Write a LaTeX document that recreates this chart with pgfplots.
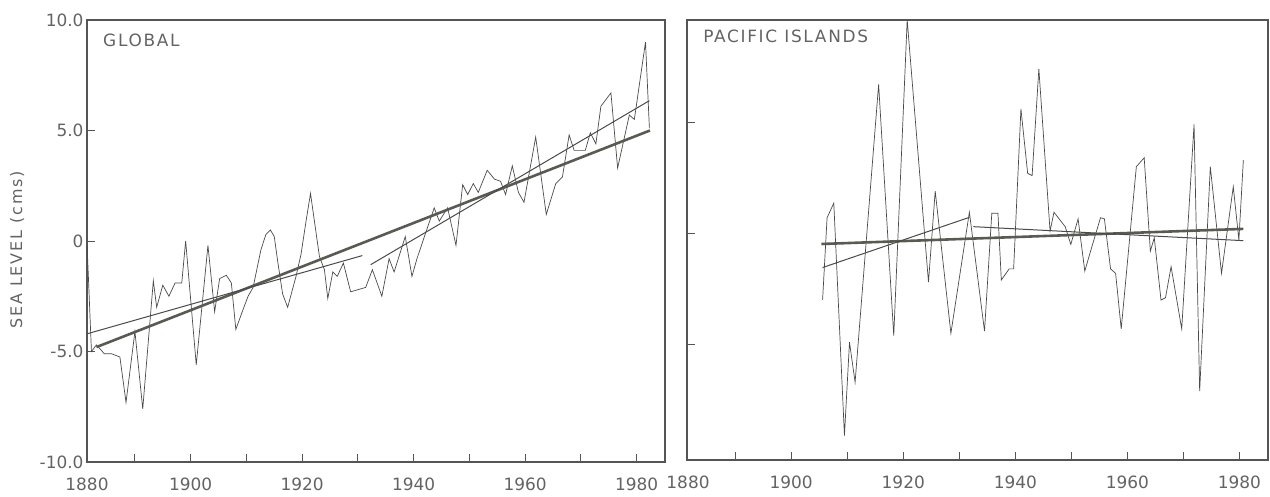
\documentclass[border=0pt]{standalone}
\usepackage{fontspec}
\setmainfont{DejaVu Sans}
\usepackage{pgfplots}
\pgfplotsset{compat=1.18}
\definecolor{txt}{HTML}{636363}
\definecolor{frm}{HTML}{555555}
\definecolor{dat}{HTML}{4A4A4A}
\definecolor{trd}{HTML}{5A5A52}
\tikzset{
  ttl/.style={anchor=west, text=txt, font=\fontsize{17}{20}\selectfont\addfontfeature{LetterSpace=10}},
  lbl/.style={anchor=north, yshift=-12bp, text=txt, font=\fontsize{17}{20}\selectfont},
}
\pgfplotsset{
  sea/.style={
    scale only axis, clip=false,
    xmin=1881.4, xmax=1985.1,
    axis line style={frm, line width=1.1bp},
    tick style={frm, line width=0.9bp},
    major tick length=8bp,
    tick align=inside,
    xtick pos=bottom, ytick pos=left,
    xtick={1890,1900,1910,1920,1930,1940,1950,1960,1970,1980},
    xticklabels={,1900,,1920,,1940,,1960,,1980},
    ticklabel style={font=\fontsize{17}{20}\selectfont, text=txt},
    xticklabel style={yshift=-12bp},
  },
  dataline/.style={draw=dat, line width=0.7bp, no marks},
  thicktrend/.style={draw=trd, line width=2.6bp, no marks},
  thintrend/.style={draw=dat, line width=1.0bp, no marks},
}
\begin{document}
\begin{tikzpicture}
\useasboundingbox (0,0) rectangle (1270bp,497bp);
% ---------------- GLOBAL ----------------
\begin{axis}[sea, at={(87bp,35bp)}, anchor=south west, width=578bp, height=442bp,
  ymin=-10, ymax=10,
  ytick={-10,-5,0,5,10},
  yticklabels={-10.0,-5.0,0,5.0,10.0},
  ylabel={SEA LEVEL (cms)},
  ylabel style={at={(rel axis cs:-0.121,0.48)}, anchor=center, text=txt,
    font=\fontsize{16}{18}\selectfont\addfontfeature{LetterSpace=12}},
]
\addplot[dataline] coordinates {
(1881.4,-0.1) (1882.2,-5.0) (1883.1,-4.7) (1884.5,-5.1) (1885.8,-5.1) (1887.3,-5.25)
(1888.4,-7.3) (1890.0,-4.1) (1891.4,-7.6) (1893.3,-1.8) (1893.9,-3.0) (1895.0,-2.0)
(1896.1,-2.5) (1897.2,-1.9) (1898.4,-1.9) (1899.1,0.0) (1901.0,-5.6) (1903.1,-0.2)
(1904.3,-3.2) (1905.2,-1.7) (1906.4,-1.55) (1907.3,-1.9) (1908.1,-4.0) (1909.4,-3.1)
(1910.3,-2.5) (1911.2,-2.1) (1912.6,-0.4) (1913.5,0.3) (1914.3,0.5) (1915.0,0.2)
(1915.6,-0.9) (1916.5,-2.4) (1917.4,-3.0) (1918.9,-1.6) (1919.8,-0.6) (1920.7,0.9)
(1921.5,2.15) (1923.1,-0.7) (1924.0,-1.3) (1924.6,-2.6) (1925.5,-1.4) (1926.3,-1.6)
(1927.4,-1.0) (1928.7,-2.3) (1931.4,-2.1) (1932.6,-1.3) (1934.3,-2.5) (1935.6,-0.8)
(1936.5,-1.4) (1938.5,0.2) (1939.7,-1.6) (1940.6,-0.8) (1942.2,0.4) (1943.7,1.5)
(1944.6,0.9) (1946.1,1.5) (1947.6,-0.2) (1948.8,2.55) (1949.7,2.1) (1950.7,2.6)
(1951.6,2.2) (1953.2,3.2) (1954.5,2.8) (1955.6,2.7) (1956.5,2.1) (1957.7,3.4)
(1958.8,2.2) (1959.8,1.75) (1961.9,4.7) (1963.8,1.2) (1965.5,2.6) (1966.7,2.9)
(1967.9,4.8) (1968.8,4.1) (1970.8,4.1) (1971.7,4.9) (1972.7,4.4) (1973.6,6.1)
(1975.4,6.7) (1976.6,3.3) (1978.7,5.7) (1979.6,5.5) (1981.6,9.0) (1982.3,5.1)
};
\addplot[thicktrend] coordinates {(1883.1,-4.8) (1982.4,5.0)};
\addplot[thintrend] coordinates {(1881.4,-4.2) (1930.8,-0.66)};
\addplot[thintrend] coordinates {(1932.3,-1.07) (1982.3,6.35)};
\node[ttl] at (rel axis cs:0.022,0.955) {GLOBAL};
\node[lbl] at (rel axis cs:0,0) {1880};
\end{axis}
% ---------------- PACIFIC ISLANDS ----------------
\begin{axis}[sea, at={(687bp,37bp)}, anchor=south west, width=581bp, height=440bp,
  ymin=-10.2, ymax=9.6,
  ytick={-5,0,5},
  yticklabels={},
]
\addplot[dataline] coordinates {
(1905.6,-3.0) (1906.4,0.7) (1907.6,1.36) (1909.5,-9.1) (1910.4,-4.9) (1911.4,-6.7)
(1915.6,6.7) (1918.3,-4.6) (1920.7,9.6) (1924.5,-2.2) (1925.7,1.9) (1928.5,-4.5)
(1931.8,0.95) (1934.5,-4.4) (1935.8,0.9) (1936.9,0.9) (1937.5,-2.1) (1938.9,-1.6)
(1939.7,-1.6) (1941.0,5.6) (1942.2,2.7) (1943.0,2.6) (1944.2,7.4) (1946.2,0.1)
(1946.9,0.95) (1948.9,0.3) (1949.9,-0.5) (1951.2,0.65) (1952.4,-1.7) (1953.2,-1.0)
(1955.2,0.7) (1955.9,0.65) (1957.0,-1.6) (1957.9,-1.8) (1958.9,-4.3) (1961.6,3.0)
(1963.0,3.4) (1964.1,-0.8) (1964.8,-0.2) (1966.0,-3.0) (1966.8,-2.9) (1967.8,-1.5)
(1969.7,-4.3) (1971.9,4.9) (1972.9,-7.1) (1974.8,3.0) (1976.8,-1.8) (1978.9,2.1)
(1979.9,-0.3) (1980.7,3.3)
};
\addplot[thicktrend] coordinates {(1905.4,-0.48) (1980.7,0.2)};
\addplot[thintrend] coordinates {(1905.6,-1.54) (1931.8,0.72)};
\addplot[thintrend] coordinates {(1932.5,0.3) (1980.7,-0.33)};
\node[ttl] at (rel axis cs:0.022,0.964) {PACIFIC ISLANDS};
\node[lbl, xshift=1bp] at (rel axis cs:0,0) {1880};
\end{axis}
\end{tikzpicture}
\end{document}
